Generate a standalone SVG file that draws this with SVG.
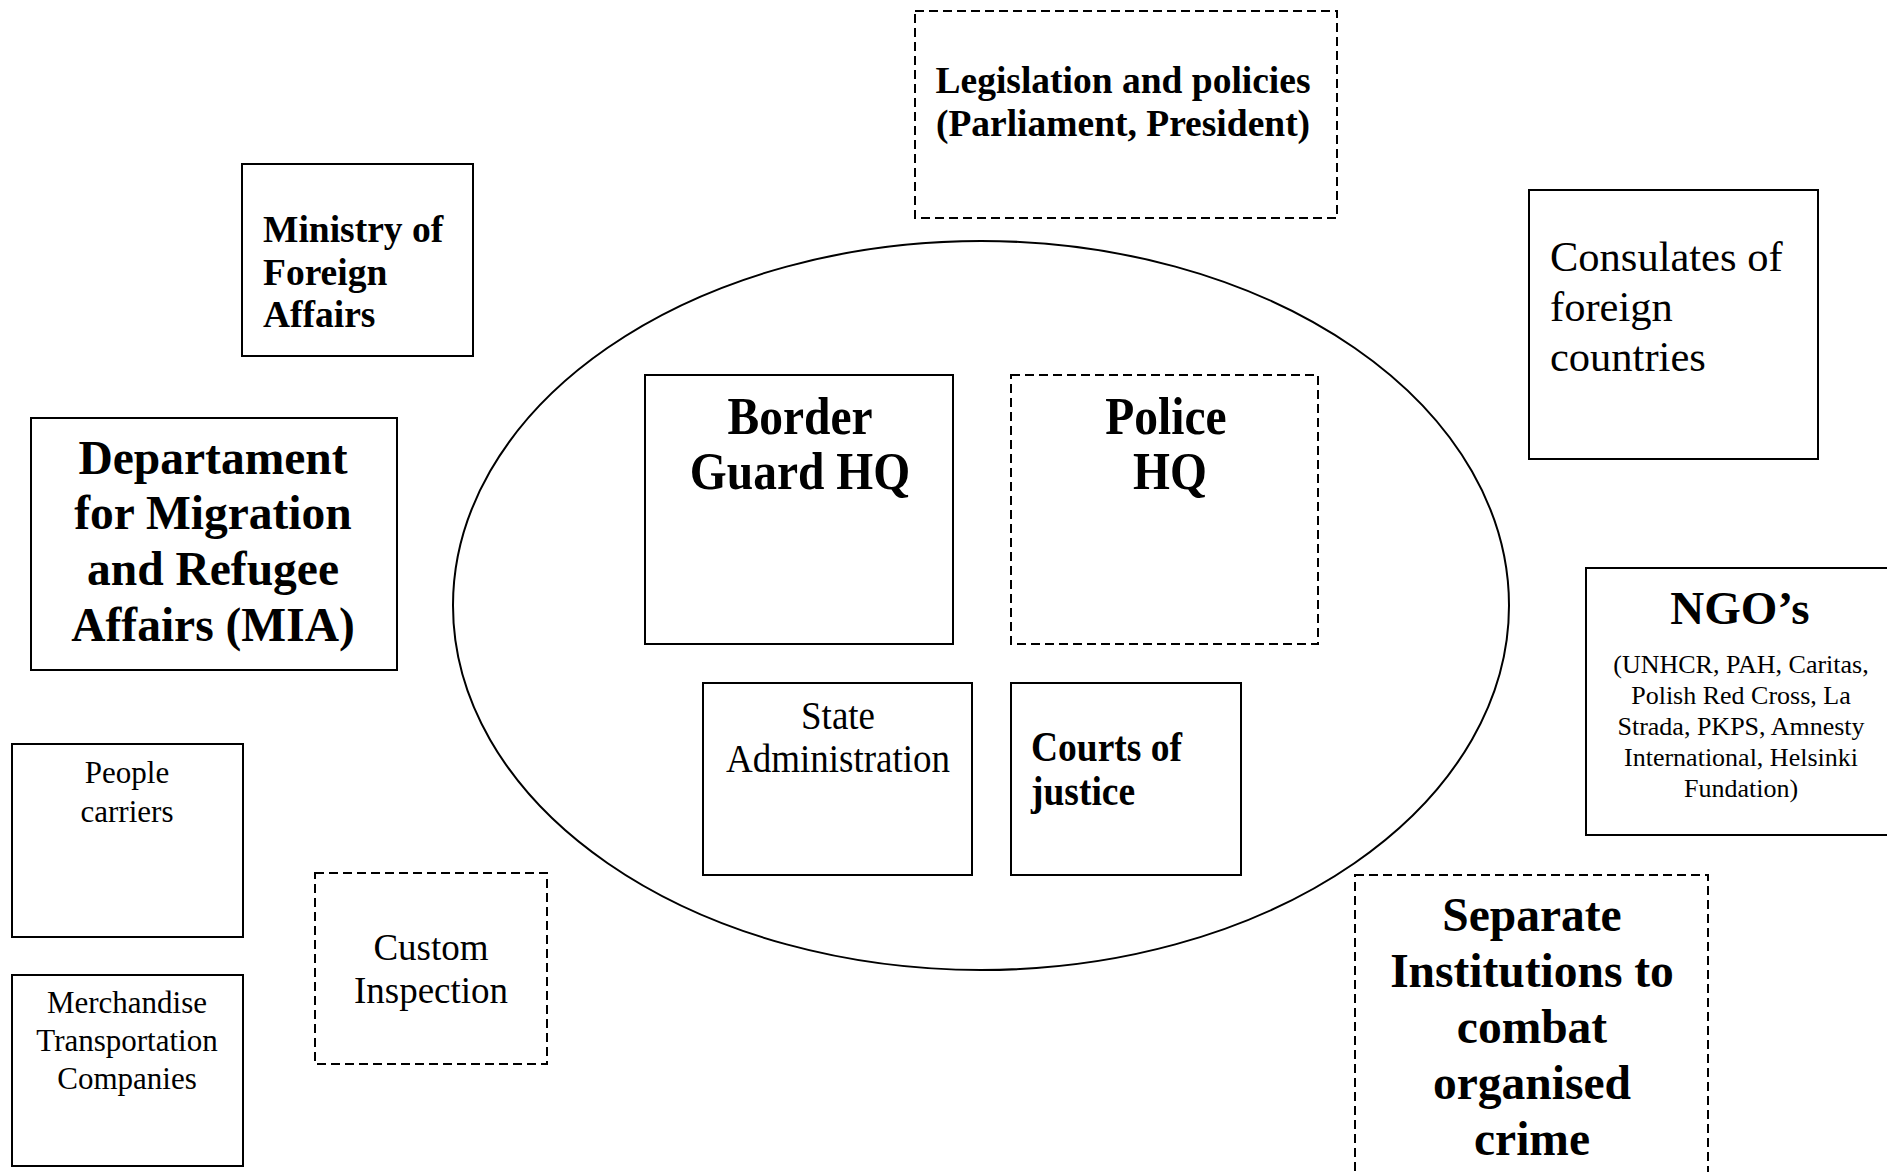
<svg xmlns="http://www.w3.org/2000/svg" width="1887" height="1172" viewBox="0 0 1887 1172">
<style>
  .box { fill: #ffffff; stroke: #000000; stroke-width: 2; }
  .dash { fill: #ffffff; stroke: #000000; stroke-width: 2; stroke-dasharray: 9 5; }
  .ring { fill: none; stroke: #000000; stroke-width: 2; }
  text { font-family: "Liberation Serif", "Times New Roman", serif; fill: #000000; }
  .b { font-weight: bold; }
  .m { text-anchor: middle; }
</style>
<rect x="0" y="0" width="1887" height="1172" fill="#ffffff"/>
<g id="connectors"></g>

<g id="node-legislation">
  <rect class="dash" x="915" y="11" width="422" height="207"/>
  <text class="b m" x="1123" y="93" font-size="37.5">Legislation and policies</text>
  <text class="b m" x="1123" y="136" font-size="37.5">(Parliament, President)</text>
</g>

<g id="node-mfa">
  <rect class="box" x="242" y="164" width="231" height="192"/>
  <text class="b" x="263" y="242" font-size="37.5">Ministry of</text>
  <text class="b" x="263" y="285" font-size="37.5">Foreign</text>
  <text class="b" x="263" y="327" font-size="37.5">Affairs</text>
</g>

<g id="node-department">
  <rect class="box" x="31" y="418" width="366" height="252"/>
  <text class="b m" x="213" y="474" font-size="47.5">Departament</text>
  <text class="b m" x="213" y="529" font-size="47.5">for Migration</text>
  <text class="b m" x="213" y="585" font-size="47.5">and Refugee</text>
  <text class="b m" x="213" y="641" font-size="47.5">Affairs (MIA)</text>
</g>

<g id="node-consulates">
  <rect class="box" x="1529" y="190" width="289" height="269"/>
  <text x="1550" y="271" font-size="42.5">Consulates of</text>
  <text x="1550" y="321" font-size="42.5">foreign</text>
  <text x="1550" y="371" font-size="42.5">countries</text>
</g>

<g id="node-ngo">
  <rect class="box" x="1586" y="568" width="320" height="267"/>
  <text class="b m" x="1740" y="624" font-size="47">NGO’s</text>
  <text class="m" x="1741" y="673" font-size="26">(UNHCR, PAH, Caritas,</text>
  <text class="m" x="1741" y="704" font-size="26">Polish Red Cross, La</text>
  <text class="m" x="1741" y="735" font-size="26">Strada, PKPS, Amnesty</text>
  <text class="m" x="1741" y="766" font-size="26">International, Helsinki</text>
  <text class="m" x="1741" y="797" font-size="26">Fundation)</text>
</g>

<g id="node-separate">
  <rect class="dash" x="1355" y="875" width="353" height="320"/>
  <text class="b m" x="1532" y="931" font-size="47.5">Separate</text>
  <text class="b m" x="1532" y="987" font-size="47.5">Institutions to</text>
  <text class="b m" x="1532" y="1043" font-size="47.5">combat</text>
  <text class="b m" x="1532" y="1099" font-size="47.5">organised</text>
  <text class="b m" x="1532" y="1155" font-size="47.5">crime</text>
</g>

<g id="node-custom">
  <rect class="dash" x="315" y="873" width="232" height="191"/>
  <text class="m" x="431" y="960" font-size="37">Custom</text>
  <text class="m" x="431" y="1003" font-size="37">Inspection</text>
</g>

<g id="node-people">
  <rect class="box" x="12" y="744" width="231" height="193"/>
  <text class="m" x="127" y="783" font-size="31">People</text>
  <text class="m" x="127" y="822" font-size="31">carriers</text>
</g>

<g id="node-merchandise">
  <rect class="box" x="12" y="975" width="231" height="191"/>
  <text class="m" x="127" y="1013" font-size="31">Merchandise</text>
  <text class="m" x="127" y="1051" font-size="31">Transportation</text>
  <text class="m" x="127" y="1089" font-size="31">Companies</text>
</g>

<g id="node-state-area">
  <ellipse class="ring" cx="981" cy="605.5" rx="528" ry="364.5"/>
</g>

<g id="node-border-guard">
  <rect class="box" x="645" y="375" width="308" height="269"/>
  <text class="b m" transform="translate(800,434) scale(1,1.1)" font-size="47.5">Border</text>
  <text class="b m" transform="translate(800,489) scale(1,1.1)" font-size="47.5">Guard HQ</text>
</g>

<g id="node-police">
  <rect class="dash" x="1011" y="375" width="307" height="269"/>
  <text class="b m" transform="translate(1166,434) scale(1,1.1)" font-size="47.5">Police</text>
  <text class="b m" transform="translate(1170,489) scale(1,1.1)" font-size="47.5">HQ</text>
</g>

<g id="node-state-admin">
  <rect class="box" x="703" y="683" width="269" height="192"/>
  <text class="m" transform="translate(838,729) scale(1,1.1)" font-size="37">State</text>
  <text class="m" transform="translate(838,772) scale(1,1.1)" font-size="37">Administration</text>
</g>

<g id="node-courts">
  <rect class="box" x="1011" y="683" width="230" height="192"/>
  <text class="b" transform="translate(1031,761) scale(1,1.1)" font-size="37.5">Courts of</text>
  <text class="b" transform="translate(1031,805) scale(1,1.1)" font-size="37.5">justice</text>
</g>
</svg>
